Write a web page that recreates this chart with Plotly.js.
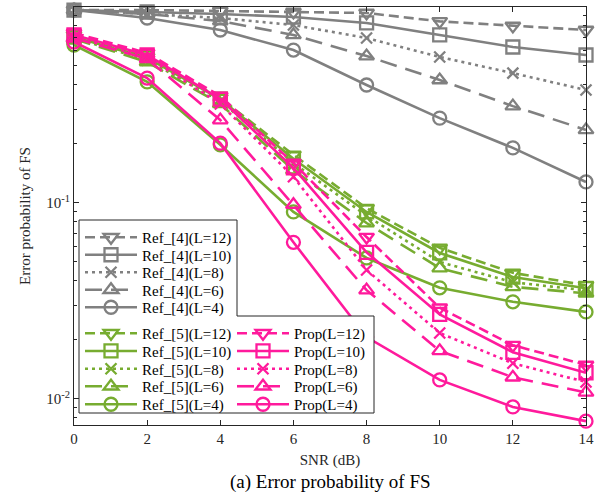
<!DOCTYPE html>
<html><head><meta charset="utf-8">
<script src="https://cdn.plot.ly/plotly-3.0.1.min.js"></script>
<style>html,body{margin:0;padding:0;background:#fff}</style>
</head><body>
<div id="chart" style="width:611px;height:495px"></div>
<script>
const snr = [0, 2, 4, 6, 8, 10, 12, 14];

const ref4_L12 = [0.965, 0.965, 0.954, 0.943, 0.932, 0.845, 0.80, 0.763];
const ref4_L10 = [0.965, 0.943, 0.921, 0.889, 0.829, 0.72, 0.625, 0.569];
const ref4_L8  = [0.965, 0.921, 0.879, 0.809, 0.695, 0.556, 0.46, 0.377];
const ref4_L6  = [0.965, 0.921, 0.848, 0.72, 0.562, 0.424, 0.312, 0.236];
const ref4_L4  = [0.965, 0.879, 0.763, 0.603, 0.40, 0.271, 0.191, 0.128];

const ref5_L12 = [0.72, 0.556, 0.343, 0.176, 0.094, 0.059, 0.044, 0.038];
const ref5_L10 = [0.703, 0.55, 0.339, 0.168, 0.09, 0.0556, 0.0419, 0.0367];
const ref5_L8  = [0.695, 0.536, 0.331, 0.16, 0.086, 0.05, 0.0394, 0.0358];
const ref5_L6  = [0.687, 0.524, 0.32, 0.147, 0.079, 0.0465, 0.0373, 0.0346];
const ref5_L4  = [0.64, 0.415, 0.198, 0.09, 0.0524, 0.0369, 0.0313, 0.0278];

const prop_L12 = [0.737, 0.582, 0.351, 0.16, 0.067, 0.0292, 0.0188, 0.0149];
const prop_L10 = [0.72, 0.569, 0.339, 0.151, 0.056, 0.027, 0.0173, 0.0136];
const prop_L8  = [0.703, 0.556, 0.32, 0.136, 0.0455, 0.0217, 0.0152, 0.0122];
const prop_L6  = [0.695, 0.543, 0.265, 0.098, 0.0359, 0.0176, 0.0129, 0.0108];
const prop_L4  = [0.663, 0.434, 0.202, 0.063, 0.0207, 0.0125, 0.0091, 0.0077];

const xTicks = [0, 2, 4, 6, 8, 10, 12, 14];
const yTickVals = [1, 0.1, 0.01];
const yTickText = ['10<sup>0</sup>', '10<sup>-1</sup>', '10<sup>-2</sup>'];
const yMinorVals = [];
[0.01, 0.1].forEach(d => { for (let k = 2; k <= 9; k++) yMinorVals.push(+(d * k).toPrecision(3)); });
yMinorVals.push(0.008, 0.009);

const GRAY = '#808080', GREEN = '#77AC30', PINK = '#FF1A9C';
const LW = 2.6;
const styles = [
  {dash: '10px,5px', sym: 'triangle-down-open', sfx: '(L=12)'},
  {dash: 'solid', sym: 'square-open', sfx: '(L=10)'},
  {dash: '3px,4px', sym: 'x-thin-open', sfx: '(L=8)'},
  {dash: '17px,9px', sym: 'triangle-up-open', sfx: '(L=6)'},
  {dash: 'solid', sym: 'circle-open', sfx: '(L=4)'}
];
const groups = [
  {name: 'Ref_[4]', color: GRAY, data: [ref4_L12, ref4_L10, ref4_L8, ref4_L6, ref4_L4]},
  {name: 'Ref_[5]', color: GREEN, data: [ref5_L12, ref5_L10, ref5_L8, ref5_L6, ref5_L4]},
  {name: 'Prop', color: PINK, data: [prop_L12, prop_L10, prop_L8, prop_L6, prop_L4]}
];

const L = 74, R = 586, T = 7, B = 425;
const px = v => (v - L) / (R - L);
const py = v => (B - v) / (B - T);
const boxPath = `M${px(79)},${py(220)} L${px(237)},${py(220)} L${px(237)},${py(316)} L${px(374)},${py(316)} L${px(374)},${py(413)} L${px(79)},${py(413)} Z`;

const FONT = 'Liberation Serif, Times New Roman, serif';
const legBase = {
  bgcolor: 'rgba(0,0,0,0)', borderwidth: 0, xanchor: 'left', yanchor: 'top',
  font: {family: FONT, size: 15, color: '#000'}, itemwidth: 52, tracegroupgap: 0,
  itemclick: false, itemdoubleclick: false
};
// legend row centres (pixels) and column lefts
const rowsTop = [239, 256.5, 274, 291.5, 309];
const rowsBottom = [335, 352.7, 370.5, 388, 406];
const colLeft = [80, 80, 232];

const traces = [];
const legendDefs = {};
let li = 0;
groups.forEach((g, gi) => {
  g.data.forEach((ys, i) => {
    const s = styles[i];
    li++;
    const key = li === 1 ? 'legend' : 'legend' + li;
    const rowC = gi === 0 ? rowsTop[i] : rowsBottom[i];
    legendDefs[key] = Object.assign({}, legBase, {x: px(colLeft[gi]), y: py(rowC - 18)});
    traces.push({
      x: snr, y: ys, type: 'scatter', mode: 'lines+markers',
      name: g.name + s.sfx, legend: key, cliponaxis: false,
      line: {color: g.color, width: LW, dash: s.dash},
      marker: {symbol: s.sym, size: s.sym === 'x-thin-open' ? 11 : 13, color: g.color,
               line: {color: g.color, width: 2.3}}
    });
  });
});

const layout = Object.assign({
  width: 611, height: 495,
  margin: {l: L, r: 611 - R, t: T, b: 495 - B},
  paper_bgcolor: '#fff', plot_bgcolor: '#fff',
  font: {family: FONT, size: 15, color: '#262626'},
  xaxis: {
    range: [0, 14], tickvals: xTicks, ticktext: xTicks.map(String),
    ticks: 'inside', ticklen: 5, tickcolor: '#262626', showline: true, linecolor: '#262626', linewidth: 1,
    mirror: 'ticks', showgrid: false, zeroline: false,
    tickfont: {family: FONT, size: 15, color: '#262626'},
    title: {text: 'SNR (dB)', font: {family: FONT, size: 15, color: '#262626'}, standoff: 8}
  },
  yaxis: {
    type: 'log', range: [-2.133, 0],
    tickmode: 'array', tickvals: yTickVals, ticktext: yTickText,
    ticks: 'inside', ticklen: 5, tickcolor: '#262626', showline: true, linecolor: '#262626', linewidth: 1,
    mirror: 'ticks', showgrid: false, zeroline: false,
    minor: {tickmode: 'array', tickvals: yMinorVals, ticks: 'inside', ticklen: 3, tickcolor: '#262626', showgrid: false},
    tickfont: {family: FONT, size: 15, color: '#262626'},
    title: {text: 'Error probability of FS', font: {family: FONT, size: 15, color: '#262626'}, standoff: 12}
  },
  showlegend: true,
  shapes: [
    {type: 'path', xref: 'paper', yref: 'paper', path: boxPath, fillcolor: '#fff',
     line: {color: '#262626', width: 1}, layer: 'above'}
  ],
  annotations: [
    {text: '(a) Error probability of FS', xref: 'paper', yref: 'paper', x: px(330), y: py(482),
     xanchor: 'center', yanchor: 'middle', showarrow: false,
     font: {family: FONT, size: 19, color: '#000'}}
  ]
}, legendDefs);

Plotly.newPlot('chart', traces, layout, {displayModeBar: false, staticPlot: true});
</script>
</body></html>
